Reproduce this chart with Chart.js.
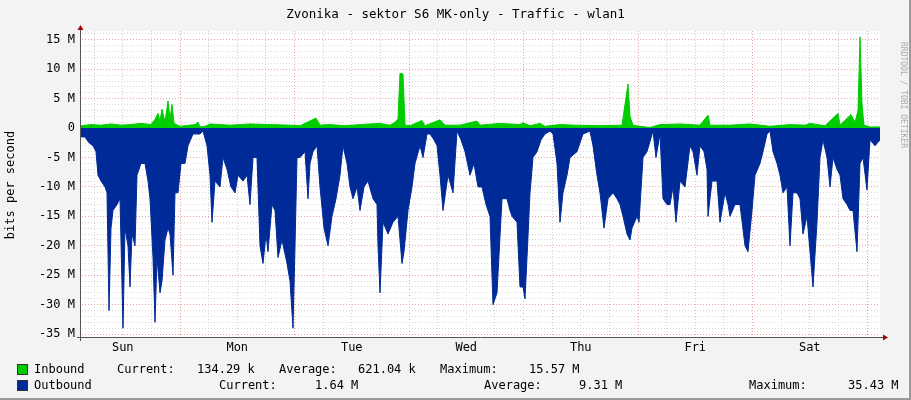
<!DOCTYPE html>
<html><head><meta charset="utf-8">
<script src="https://cdn.jsdelivr.net/npm/chart.js@4/dist/chart.umd.min.js"></script>
<style>
body{margin:0;background:#f3f3f3;}
#wrap{position:relative;width:911px;height:400px;background:#f3f3f3;overflow:hidden;border-right:2px solid #999;border-bottom:2px solid #999;box-sizing:border-box;}
canvas{position:absolute;left:0;top:0;}
.t{position:absolute;font-family:"DejaVu Sans Mono",monospace;font-size:12px;color:#000;white-space:pre;line-height:14px;}
.sq{position:absolute;width:9px;height:9px;border:1px solid #333;}
</style></head><body>
<div id="wrap">
<canvas id="c" width="911" height="400"></canvas>
<div class="t" style="left:0;width:911px;text-align:center;top:7px;font-size:12.5px;">Zvonika - sektor S6 MK-only - Traffic - wlan1</div>
<div class="t" style="left:-45px;top:178px;width:110px;text-align:center;transform:rotate(-90deg);">bits per second</div>
<div class="t" style="left:858px;top:80px;width:90px;text-align:center;transform:rotate(90deg);font-size:8px;color:#aaa;">RRDTOOL / TOBI OETIKER</div>
<div id="legend"></div>
</div>
<script>
// Rows are consolidated data points (~12.6 min each), row 0 = Sun ~03:20
const dayLabels = ['Sun','Mon','Tue','Wed','Thu','Fri','Sat'];
const yTickValues = [15,10,5,0,-5,-10,-15,-20,-25,-30,-35];
const outRows = [0,4,8,12,15,17,20,24,26,28,30,32,36,39,42,44,47,49,51,54,56,60,64,67,69,72,74,76,79,81,84,87,89,92,94,97,100,104,107,112,119,122,126,129,131,134,139,142,146,150,154,157,162,166,169,172,176,179,182,185,187,191,194,197,201,206,209,212,214,216,219,224,227,229,232,236,239,243,247,251,255,259,262,266,269,272,276,279,283,287,292,296,297,299,302,307,312,317,321,323,327,331,334,339,342,346,349,353,356,359,362,367,372,376,380,384,389,393,397,401,405,409,412,416,421,426,429,431,436,439,442,444,446,449,452,456,460,464,469,472,476,479,482,486,489,496,502,509,512,516,519,523,527,532,536,539,542,546,549,551,556,558,562,566,572,572,575,579,582,586,589,592,595,599,604,609,612,616,619,623,626,627,631,636,639,644,647,649,654,659,664,667,671,674,679,682,686,689,692,696,699,702,706,709,712,716,719,722,726,729,732,736,739,742,746,749,752,756,759,762,766,769,772,776,779,782,786,789,794,799];
const outVals = [-1.5,-1.5,-2.5,-3,-4,-8,-9,-10,-11,-31,-17,-14,-13,-12,-34,-17,-20,-27,-18,-20,-8,-6,-6,-9,-12,-22,-33,-22,-28,-26,-19,-17,-18,-25,-11,-11,-6,-6,-3,-1,-1,-0.5,-3,-8,-16,-9,-10,-5,-7,-10,-11,-8,-9,-8,-13,-5,-5,-20,-23,-18,-21,-13,-14,-22,-19,-23,-26,-34,-20,-5,-5,-4,-12,-6,-4,-3,-10,-17,-20,-15,-12,-8,-3,-6,-10,-12,-10,-14,-10,-9,-12,-13,-20,-28,-16,-18,-16,-15,-23,-21,-14,-10,-6,-3,-5,-1,-1,-2,-3,-8,-14,-8,-11,-0.5,-2,-4,-8,-6,-10,-10,-13,-15,-30,-28,-12,-12,-14,-15,-16,-27,-27,-29,-22,-11,-5,-4,-2,-1,-0.5,-1,-6,-16,-11,-8,-5,-4,-1,-0.5,-3,-8,-11,-17,-12,-11,-12,-13,-15,-18,-19,-17,-15,-16,-5,-4,-0.5,-0.5,-5,-1,-12,-13,-13,-10,-16,-9,-10,-3,-4,-8,-3,-4,-7,-15,-9,-9,-16,-11,-13,-15,-13,-13,-20,-21,-14,-8,-6,-4,-1,-0.5,-4,-6,-8,-11,-10,-20,-11,-11,-12,-18,-15,-21,-27,-16,-5,-2,-5,-10,-5,-7,-8,-12,-13,-14,-14,-21,-6,-5,-10.5,-2,-3,-2];
const inRows = [0,10,20,30,40,50,60,70,74,77,79,81,84,87,89,91,93,99,114,117,119,124,129,149,169,189,209,219,235,239,249,264,279,299,309,314,317,319,322,324,329,341,344,359,364,379,396,399,419,439,442,449,459,464,479,494,519,541,547,549,552,559,569,579,599,619,627,629,649,669,689,709,724,729,744,757,759,770,774,777,779,781,783,789,799];
const inVals = [0.4,0.6,0.5,0.7,0.5,0.6,0.8,0.6,1.5,2.5,1.2,3.2,1,4.6,1.5,4,0.8,0.3,0.6,1,0.2,0.3,0.7,0.5,0.7,0.6,0.5,0.4,1.7,0.5,0.6,0.4,0.6,0.8,0.5,1.0,1.5,9.3,9.2,0.5,0.4,1.3,0.4,1.4,0.5,0.5,1.2,0.5,0.8,0.6,0.9,0.4,0.8,0.3,0.6,0.5,0.4,0.5,7.5,2,0.5,0.3,0.1,0.6,0.7,0.5,2.2,0.5,0.5,0.7,0.3,0.6,0.5,0.8,0.4,2.5,0.5,2.3,1,3,15.5,4,0.5,0.2,0.2];

const firstMidnight = 99, rowsPerDay = 114.5;
const inData = inRows.map((r,i)=>({x:r,y:inVals[i]}));
const outData = outRows.map((r,i)=>({x:r,y:outVals[i]}));

const legendRows = [
  {color:'#00cc00', items:[['Inbound',34],['Current:',117],['134.29 k',197],['Average:',279],['621.04 k',358],['Maximum:',440],['15.57 M',529]]},
  {color:'#002a97', items:[['Outbound',34],['Current:',219],['1.64 M',315],['Average:',484],['9.31 M',579],['Maximum:',749],['35.43 M',848]]}
];
const lg = document.getElementById('legend');
legendRows.forEach((row,ri)=>{
  const top = 362 + ri*16;
  const s=document.createElement('div');s.className='sq';s.style.left='17px';s.style.top=(top+2)+'px';s.style.background=row.color;lg.appendChild(s);
  row.items.forEach(([txt,x])=>{const d=document.createElement('div');d.className='t';d.style.left=x+'px';d.style.top=top+'px';d.textContent=txt;lg.appendChild(d);});
});

const bgPlugin={id:'bg',beforeDraw(ch){const a=ch.chartArea,c=ch.ctx;c.save();c.fillStyle='#fff';c.fillRect(a.left,a.top,a.right-a.left,a.bottom-a.top);c.restore();},
 afterDraw(ch){const a=ch.chartArea,c=ch.ctx;c.save();c.strokeStyle='#555';c.lineWidth=1;c.beginPath();c.moveTo(a.left-0.5,a.bottom+4);c.lineTo(a.left-0.5,a.top-2);c.moveTo(a.left-4,a.bottom+0.5);c.lineTo(a.right+4,a.bottom+0.5);c.stroke();
 c.fillStyle='#a00';c.beginPath();c.moveTo(a.left-3.5,a.top-1);c.lineTo(a.left+2.5,a.top-1);c.lineTo(a.left-0.5,a.top-6);c.fill();
 c.beginPath();c.moveTo(a.right+3,a.bottom-2.5);c.lineTo(a.right+3,a.bottom+3.5);c.lineTo(a.right+8,a.bottom+0.5);c.fill();c.restore();}};

new Chart(document.getElementById('c'),{
 type:'line',
 data:{datasets:[
  {data:outData,borderColor:'#002a97',backgroundColor:'#002a97',fill:'origin',borderWidth:1,pointRadius:0,tension:0},
  {data:inData,borderColor:'#00cc00',backgroundColor:'#00cc00',fill:'origin',borderWidth:1,pointRadius:0,tension:0}
 ]},
 plugins:[bgPlugin],
 options:{responsive:false,animation:false,
  layout:{padding:{top:31,right:31,left:0,bottom:0}},
  plugins:{legend:{display:false},tooltip:{enabled:false}},
  scales:{
   x:{type:'linear',min:0,max:799,
    afterBuildTicks(ax){const t=[];for(let k=-12;k<=28;k++){const v=firstMidnight+k*rowsPerDay/4;if(v>0&&v<799)t.push({value:v,k});}ax.ticks=t;},
    afterFit(ax){ax.height=63;},
    ticks:{autoSkip:false,maxRotation:0,font:{family:'DejaVu Sans Mono',size:12},color:'#000',padding:4,
     callback(v,i,ts){const k=ts[i].k;if(((k%4)+4)%4!==2)return '';return dayLabels[Math.floor((k-2)/4)+1]||'';}},
    grid:{color(c){const k=c.tick&&c.tick.k;return (((k%4)+4)%4===0)?'#e8a0a0':'#d0d0d0';},lineWidth:1,drawTicks:false},
    border:{display:true,color:'rgba(0,0,0,0)',dash:[1,2]}
   },
   y:{min:-35.5,max:16.5,
    afterBuildTicks(ax){const t=[];for(let v=-35;v<=16;v++)t.push({value:v});ax.ticks=t;},
    afterFit(ax){ax.width=81;},
    ticks:{autoSkip:false,font:{family:'DejaVu Sans Mono',size:12},color:'#000',padding:6,
     callback(v){return yTickValues.includes(v)?(v===0?'0':v+' M'):'';}},
    grid:{color(c){const v=c.tick.value;return v%5===0?'#e8a0a0':'#d8d8d8';},drawTicks:false},
    border:{display:true,color:'rgba(0,0,0,0)',dash:[1,2]}
   }
  }
 }
});
</script>
</body></html>
